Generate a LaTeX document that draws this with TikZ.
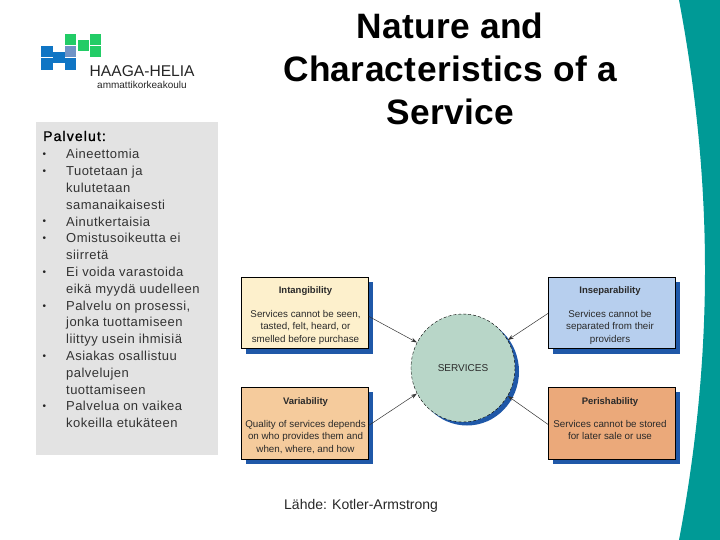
\documentclass[tikz,border=0pt]{standalone}
\usepackage{fontspec}
\setmainfont{Liberation Sans}
\newfontfamily\titlefam[LetterSpace=1]{Liberation Sans}
\newfontfamily\palfam[LetterSpace=8,FakeBold=1.2]{Liberation Sans}
\newfontfamily\listfam[LetterSpace=3.5]{Liberation Sans}
\usetikzlibrary{shapes.geometric,arrows.meta}
\definecolor{teal1}{HTML}{009A96}
\definecolor{panel}{HTML}{E3E3E3}
\definecolor{logob}{HTML}{0F75C4}
\definecolor{logom}{HTML}{6F93C6}
\definecolor{logog}{HTML}{22CC66}
\definecolor{shadowb}{HTML}{1F58A8}
\definecolor{c1}{HTML}{FDF0CC}
\definecolor{c2}{HTML}{F5CB9C}
\definecolor{c3}{HTML}{B7CFEE}
\definecolor{c4}{HTML}{EBA97A}
\definecolor{csvc}{HTML}{B8D6C8}
\definecolor{tx}{HTML}{2A2A2A}
\tikzset{
  card/.style={draw=black,line width=0.8pt,minimum width=127pt,minimum height=71pt,inner sep=0pt,anchor=north west},
  cardshadow/.style={fill=shadowb},
  cardtitle/.style={font=\fontsize{9.5}{11}\selectfont\bfseries,text=tx,anchor=base},
  cardtext/.style={font=\fontsize{9.8}{12.3}\selectfont,text=tx,align=center,anchor=north},
  conn/.style={draw=black!80,line width=0.5pt,-{Stealth[length=6pt,width=4pt]}},
  listline/.style={font=\listfam\fontsize{13}{15}\selectfont,text=black!80,anchor=base west,inner sep=0pt},
  bulletmark/.style={font=\fontsize{10}{11}\selectfont,text=black!85,anchor=base west,inner sep=0pt},
  titleline/.style={font=\titlefam\bfseries\fontsize{35.3}{40}\selectfont,anchor=base,inner sep=0pt,text=black},
}
\begin{document}
\begin{tikzpicture}[x=1pt,y=-1pt]
\useasboundingbox (0,0) rectangle (720,540);
% teal band
\fill[teal1] (679,0) .. controls (696,90) and (705,180) .. (705,270) .. controls (705,360) and (696,450) .. (679,540) -- (720,540) -- (720,0) -- cycle;
% logo
\fill[logob] (41,46) rectangle (52.5,57.5);
\fill[logob] (41,58.5) rectangle (52.5,70);
\fill[logob] (53,52) rectangle (64.5,63.5);
\fill[logom] (65,46) rectangle (76,57.5);
\fill[logob] (65,58.5) rectangle (76,70);
\fill[logog] (65,34) rectangle (76,45);
\fill[logog] (78,40) rectangle (89,51);
\fill[logog] (90,34) rectangle (101,45);
\fill[logog] (90,46) rectangle (101,57.5);
\node[anchor=base west,inner sep=0pt,font=\fontsize{15.6}{18}\selectfont,text=black!85] (hh) at (89.5,77) {HAAGA-HELIA};
\node[anchor=base west,inner sep=0pt,font=\fontsize{10}{11}\selectfont,text=black!85] (amk) at (97,88.5) {ammattikorkeakoulu};
% panel
\fill[panel] (36,122) rectangle (218,455);
\node[anchor=base west,inner sep=0pt,font=\palfam\fontsize{14}{16}\selectfont,text=black] (pal) at (43,141) {Palvelut:};
\foreach \i/\t in {0/Aineettomia,1/Tuotetaan ja,2/kulutetaan,3/samanaikaisesti,4/Ainutkertaisia,5/Omistusoikeutta ei,6/siirretä,7/Ei voida varastoida,8/eikä myydä uudelleen,9/{Palvelu on prosessi,},10/jonka tuottamiseen,11/liittyy usein ihmisiä,12/Asiakas osallistuu,13/palvelujen,14/tuottamiseen,15/Palvelua on vaikea,16/kokeilla etukäteen}{
  \node[listline] (line\i) at (66,158.8+\i*16.8) {\t};
}
\foreach \i in {0,1,4,5,7,9,12,15}{
  \node[bulletmark] (bul\i) at (42.5,157.8+\i*16.8) {•};
}
% title
\node[titleline] (t1) at (450,38.5) {Nature and};
\node[titleline] (t2) at (450,81.5) {Characteristics of a};
\node[titleline] (t3) at (450,125) {Service};
% shadows
\fill[cardshadow] (246,282) rectangle (373,353.5);
\fill[cardshadow] (246,392) rectangle (373,464);
\fill[cardshadow] (553,282) rectangle (680,353.5);
\fill[cardshadow] (553,392) rectangle (680,464);
\fill[cardshadow] (467,371.5) ellipse [x radius=52,y radius=54];
% cards
\node[card,fill=c1] (intang) at (241,277) {};
\node[card,fill=c2,minimum height=72pt] (vari) at (241,387) {};
\node[card,fill=c3] (insep) at (548,277) {};
\node[card,fill=c4,minimum height=72pt] (peri) at (548,387) {};
\node[ellipse,draw=black,densely dashed,line width=0.4pt,fill=csvc,minimum width=104pt,minimum height=108pt,inner sep=0pt,font=\fontsize{10}{12}\selectfont,text=tx] (svc) at (463,368) {SERVICES};
% card text
\node[cardtitle] (it) at (305.5,293) {Intangibility};
\node[cardtext] (ib) at (305.5,307) {Services cannot be seen,\\tasted, felt, heard, or\\smelled before purchase};
\node[cardtitle] (vt) at (305.5,404) {Variability};
\node[cardtext] (vb) at (305.5,417) {Quality of services depends\\on who provides them and\\when, where, and how};
\node[cardtitle] (st) at (610,293) {Inseparability};
\node[cardtext] (sb) at (610,307) {Services cannot be\\separated from their\\providers};
\node[cardtitle] (pt) at (610,404) {Perishability};
\node[cardtext] (pb) at (610,417) {Services cannot be stored\\for later sale or use};
% connectors
\draw[conn] ([yshift=-3.5pt]intang.east) -- (svc.151);
\draw[conn] ([yshift=-2pt]vari.east) -- (svc.209);
\draw[conn] ([yshift=-.5pt]insep.west) -- (svc.32);
\draw[conn] ([yshift=-1pt]peri.west) -- (svc.-32);
% source
\node[anchor=base west,inner sep=0pt,font=\fontsize{14}{16}\selectfont,text=black!85] (src) at (284,509) {Lähde: Kotler-Armstrong};
\end{tikzpicture}
\end{document}
